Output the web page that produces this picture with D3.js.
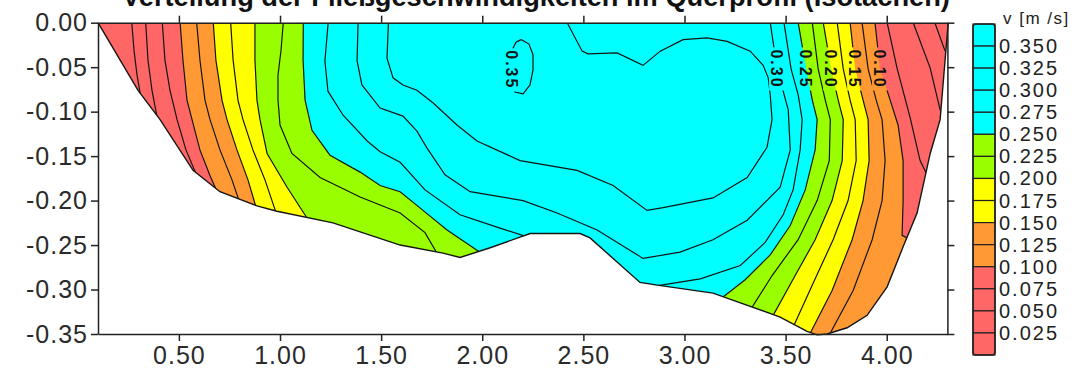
<!DOCTYPE html>
<html>
<head>
<meta charset="utf-8">
<script src="https://cdn.jsdelivr.net/npm/d3@7"></script>
<style>
  body { margin: 0; background: #fff; }
  svg { display: block; font-family: "Liberation Sans", Arial, sans-serif; }
  .axis text { font-size: 25px; fill: #2a2a2a; letter-spacing: 1px; }
  .axis path, .axis line { stroke: #222; stroke-width: 1.5px; }
</style>
</head>
<body>
<svg id="chart" width="1088" height="369"></svg>
<script>
const titleText = 'Verteilung der Fließgeschwindigkeiten im Querprofil (Isotachen)';
const unitText = 'v [m /s]';

// ticks
const xTicks = [0.5, 1.0, 1.5, 2.0, 2.5, 3.0, 3.5, 4.0];
const yTicks = [0, -0.05, -0.10, -0.15, -0.20, -0.25, -0.30, -0.35];

// isotach levels and colour bands
const levels = [0.025, 0.05, 0.075, 0.10, 0.125, 0.15, 0.175, 0.20, 0.225, 0.25, 0.275, 0.30, 0.325, 0.35];
const bandBreaks = [0.10, 0.15, 0.20, 0.25];
const bandColors = ['#ff6666', '#ff9933', '#ffff00', '#99ff00', '#00ffff'];

// river bed (x [m], level [m])
const bed = [[0.10,0],[0.298,-0.076],[0.407,-0.109],[0.570,-0.166],[0.703,-0.190],[0.886,-0.206],[0.985,-0.212],[1.262,-0.225],[1.594,-0.250],[1.806,-0.259],[1.890,-0.264],[2.039,-0.253],[2.237,-0.237],[2.484,-0.237],[2.533,-0.242],[2.780,-0.292],[2.865,-0.295],[3.141,-0.304],[3.473,-0.331],[3.606,-0.347],[3.656,-0.351],[3.705,-0.350],[3.804,-0.343],[3.903,-0.329],[4.002,-0.297],[4.081,-0.252],[4.150,-0.214],[4.215,-0.147],[4.264,-0.109],[4.304,0]];

// isotachs near the left bank, surface -> bed
const leftLines = [
  [0.025, [[0.267,0],[0.278,-0.031],[0.293,-0.059],[0.315,-0.088]]],
  [0.05,  [[0.336,0],[0.347,-0.042],[0.367,-0.076],[0.387,-0.100],[0.40,-0.115]]],
  [0.075, [[0.418,0],[0.431,-0.042],[0.456,-0.076],[0.491,-0.109],[0.535,-0.143],[0.594,-0.175],[0.60,-0.185]]],
  [0.10,  [[0.506,0],[0.520,-0.042],[0.540,-0.087],[0.565,-0.109],[0.604,-0.143],[0.654,-0.172],[0.708,-0.200]]],
  [0.125, [[0.588,0],[0.604,-0.042],[0.629,-0.087],[0.654,-0.109],[0.703,-0.143],[0.763,-0.177],[0.812,-0.210]]],
  [0.15,  [[0.670,0],[0.683,-0.042],[0.713,-0.087],[0.738,-0.109],[0.787,-0.143],[0.842,-0.177],[0.891,-0.215]]],
  [0.175, [[0.756,0],[0.768,-0.042],[0.792,-0.087],[0.817,-0.109],[0.866,-0.143],[0.926,-0.177],[0.990,-0.220]]],
  [0.20,  [[0.876,0],[0.876,-0.042],[0.886,-0.087],[0.901,-0.109],[0.936,-0.147],[1.035,-0.185],[1.163,-0.230]]],
  [0.225, [[1.016,0],[1.005,-0.031],[0.990,-0.059],[0.990,-0.087],[1.000,-0.115],[1.059,-0.147],[1.198,-0.174],[1.396,-0.196],[1.594,-0.214],[1.717,-0.236],[1.791,-0.265]]],
  [0.25,  [[1.115,0],[1.114,-0.042],[1.124,-0.087],[1.158,-0.121],[1.247,-0.149],[1.396,-0.168],[1.495,-0.183],[1.594,-0.190],[1.707,-0.211],[1.826,-0.233],[2.014,-0.262]]]
];

// isotachs near the right bank, surface -> bed
const rightLines = [
  [0.025, [[4.238,0],[4.287,-0.031],[4.322,-0.042]]],
  [0.05,  [[4.131,0],[4.215,-0.051],[4.264,-0.098],[4.304,-0.115]]],
  [0.075, [[4.002,0],[4.051,-0.051],[4.116,-0.107],[4.165,-0.155],[4.225,-0.183]]],
  [0.10,  [[3.942,0],[3.967,-0.052],[4.017,-0.087],[4.056,-0.115],[4.081,-0.155],[4.081,-0.200],[4.076,-0.239],[4.126,-0.245]]],
  [0.125, [[3.878,0],[3.908,-0.052],[3.948,-0.087],[3.977,-0.109],[3.992,-0.155],[3.977,-0.200],[3.928,-0.244],[3.834,-0.301],[3.695,-0.360]]],
  [0.15,  [[3.819,0],[3.844,-0.052],[3.883,-0.087],[3.908,-0.109],[3.913,-0.155],[3.883,-0.200],[3.829,-0.244],[3.730,-0.301],[3.606,-0.356]]],
  [0.175, [[3.755,0],[3.785,-0.052],[3.819,-0.087],[3.844,-0.109],[3.849,-0.155],[3.809,-0.200],[3.735,-0.244],[3.632,-0.295],[3.532,-0.345]]],
  [0.20,  [[3.686,0],[3.725,-0.052],[3.760,-0.087],[3.785,-0.109],[3.780,-0.155],[3.730,-0.200],[3.646,-0.244],[3.548,-0.284],[3.424,-0.335]]],
  [0.225, [[3.632,0],[3.661,-0.052],[3.696,-0.087],[3.721,-0.109],[3.716,-0.155],[3.656,-0.200],[3.562,-0.244],[3.434,-0.284],[3.320,-0.325]]],
  [0.25,  [[3.562,0],[3.602,-0.052],[3.632,-0.087],[3.656,-0.109],[3.646,-0.143],[3.597,-0.188],[3.523,-0.228],[3.424,-0.261],[3.300,-0.289],[3.170,-0.312]]]
];

// isotachs of the core (fast) zone
const coreLines = [
  [0.275, [[1.238,0],[1.222,-0.043],[1.237,-0.077],[1.312,-0.104],[1.431,-0.133],[1.495,-0.145],[1.594,-0.157],[1.717,-0.188],[1.890,-0.216],[2.088,-0.231],[2.237,-0.242]]],
  [0.275, [[2.830,-0.297],[3.078,-0.288],[3.276,-0.273],[3.399,-0.247],[3.488,-0.216],[3.537,-0.188],[3.572,-0.143],[3.582,-0.109],[3.562,-0.081],[3.527,-0.052],[3.492,0]]],
  [0.30,  [[1.386,0],[1.381,-0.043],[1.405,-0.070],[1.495,-0.096],[1.608,-0.105],[1.677,-0.122],[1.727,-0.141],[1.816,-0.171],[1.940,-0.190],[2.202,-0.200],[2.370,-0.214],[2.568,-0.233],[2.795,-0.265],[2.978,-0.258],[3.141,-0.244],[3.310,-0.222],[3.473,-0.185],[3.523,-0.143],[3.513,-0.098],[3.458,-0.052],[3.424,0]]],
  [0.325, [[1.536,0],[1.529,-0.040],[1.559,-0.062],[1.608,-0.070],[1.677,-0.076],[1.756,-0.090],[1.875,-0.115],[1.974,-0.133],[2.187,-0.155],[2.469,-0.166],[2.647,-0.183],[2.815,-0.211],[2.894,-0.208],[3.141,-0.197],[3.310,-0.174],[3.408,-0.140],[3.433,-0.109],[3.424,-0.081],[3.414,-0.062],[3.389,-0.048],[3.325,-0.032],[3.211,-0.021],[3.112,-0.017],[2.993,-0.019],[2.880,-0.032],[2.795,-0.048],[2.667,-0.034],[2.523,-0.035],[2.494,-0.032],[2.420,0]]],
  [0.35,  [[2.192,-0.019],[2.231,-0.024],[2.251,-0.036],[2.251,-0.053],[2.236,-0.070],[2.202,-0.080],[2.162,-0.078],[2.137,-0.064],[2.132,-0.048],[2.147,-0.031],[2.167,-0.022],[2.192,-0.019]]]
];

// contour labels: value, x, level
const contourLabels = [[0.35,2.147,-0.053],[0.30,3.458,-0.052],[0.25,3.602,-0.052],[0.20,3.725,-0.052],[0.15,3.844,-0.052],[0.10,3.967,-0.052]];

const W = 1088, H = 369;
const svg = d3.select('#chart');
const x = d3.scaleLinear().domain([0.1, 4.3]).range([98, 947.4]);
const y = d3.scaleLinear().domain([-0.35, 0]).range([334, 22.7]);
const loc = d3.formatLocale({ decimal: '.', thousands: ',', grouping: [3], currency: ['', ''], minus: '-' });
const f2 = loc.format('.2f');
const f3 = loc.format('.3f');
const color = d3.scaleThreshold().domain(bandBreaks).range(bandColors);
const line = d3.line().x((d) => x(d[0])).y((d) => y(d[1]));

// clip everything to the wetted cross section
svg.append('clipPath').attr('id', 'section').append('path').attr('d', line(bed) + 'Z');
const plot = svg.append('g').attr('clip-path', 'url(#section)');

plot.append('path').attr('d', line(bed) + 'Z').attr('fill', color(0));

// colour bands: area between left and right isotach of each break
bandBreaks.forEach((b) => {
	const l = leftLines.find((d) => d[0] === b)[1];
	const r = rightLines.find((d) => d[0] === b)[1];
	const le = l[l.length - 1];
	const re = r[r.length - 1];
	const poly = [ ...l, [ le[0], -0.5 ], [ re[0], -0.5 ], ...r.slice().reverse() ];
	plot.append('path').attr('d', line(poly) + 'Z').attr('fill', color(b));
});

// labels are cut out of the lines with a mask
const mask = svg.append('mask').attr('id', 'lblmask');
mask.append('rect').attr('width', W).attr('height', H).attr('fill', '#fff');

const lines = plot.append('g').attr('mask', 'url(#lblmask)');
[ ...leftLines, ...rightLines, ...coreLines ].forEach((d) => {
	lines
		.append('path')
		.attr('d', line(d[1]))
		.attr('fill', 'none')
		.attr('stroke', '#151515')
		.attr('stroke-width', 1.2);
});

// bed outline
svg.append('path').attr('d', line(bed)).attr('fill', 'none').attr('stroke', '#151515').attr('stroke-width', 1.4);

contourLabels.forEach((d) => {
	const t = svg
		.append('text')
		.attr('transform', `translate(${x(d[1])},${y(d[2])}) rotate(90)`)
		.attr('text-anchor', 'middle')
		.attr('dy', '0.36em')
		.attr('font-size', 16)
		.attr('font-weight', 'bold')
		.attr('letter-spacing', 2)
		.attr('fill', '#111')
		.text(f2(d[0]));
	const len = t.node().getComputedTextLength();
	mask
		.append('rect')
		.attr('x', x(d[1]) - 8)
		.attr('y', y(d[2]) - len / 2 - 2)
		.attr('width', 16)
		.attr('height', len + 4)
		.attr('fill', '#000');
});

// axes
svg
	.append('g')
	.attr('class', 'axis')
	.attr('transform', `translate(0,${y(-0.35)})`)
	.call(d3.axisBottom(x).tickValues(xTicks).tickSize(7).tickSizeOuter(0).tickPadding(5).tickFormat(f2));
svg
	.append('g')
	.attr('class', 'axis')
	.attr('transform', `translate(0,${y(0)})`)
	.call(d3.axisTop(x).tickValues(xTicks).tickSize(7).tickSizeOuter(0).tickFormat(''));
svg
	.append('g')
	.attr('class', 'axis')
	.attr('transform', `translate(${x(0.1)},0)`)
	.call(d3.axisLeft(y).tickValues(yTicks).tickSize(7).tickSizeOuter(0).tickPadding(3).tickFormat(f2));
svg
	.append('g')
	.attr('class', 'axis')
	.attr('transform', `translate(${x(4.3)},0)`)
	.call(d3.axisRight(y).tickValues(yTicks).tickSize(7).tickSizeOuter(0).tickFormat(''));

// legend
const legendX = 973;
const legendW = 22;
const cells = levels.length + 1;
const ly = d3.scaleLinear().domain([ 0, cells ]).range([ 24, 355 ]);
const legendLevels = levels.slice().reverse();
const lg = svg.append('g');
d3.range(cells).forEach((i) => {
	const v = i === 0 ? 0.36 : legendLevels[i - 1] - 0.01;
	lg
		.append('rect')
		.attr('x', legendX)
		.attr('y', ly(i))
		.attr('width', legendW)
		.attr('height', ly(i + 1) - ly(i))
		.attr('fill', color(v))
		.attr('stroke', '#222')
		.attr('stroke-width', 1.2);
});
lg
	.append('rect')
	.attr('x', legendX)
	.attr('y', ly(0))
	.attr('width', legendW)
	.attr('height', ly(cells) - ly(0))
	.attr('rx', 3)
	.attr('fill', 'none')
	.attr('stroke', '#222')
	.attr('stroke-width', 1.6);
legendLevels.forEach((v, i) => {
	lg
		.append('text')
		.attr('x', legendX + legendW + 4)
		.attr('y', ly(i + 1))
		.attr('dy', '0.35em')
		.attr('font-size', 20)
		.attr('letter-spacing', 2)
		.attr('fill', '#222')
		.text(f3(v));
});
lg
	.append('text')
	.attr('x', 1003)
	.attr('y', 24)
	.attr('font-size', 17)
	.attr('letter-spacing', 1.5)
	.attr('fill', '#222')
	.text(unitText);

// title, mostly outside the top of the picture
const title = svg
	.append('text')
	.attr('x', 536)
	.attr('y', 6)
	.attr('text-anchor', 'middle')
	.attr('font-weight', 'bold')
	.attr('font-size', 24)
	.attr('fill', '#111')
	.text(titleText);
const tw = title.node().getComputedTextLength();
title.attr('font-size', 24 * 828 / tw);
</script>
</body>
</html>
